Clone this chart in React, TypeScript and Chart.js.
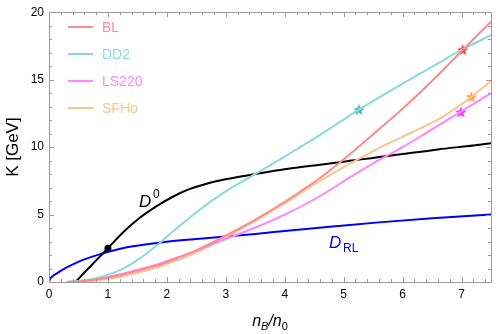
import React, { useEffect, useRef } from 'react';
import { Chart, registerables } from 'chart.js';
Chart.register(...registerables);

const W = 498;
const H = 334;

// ---- data ----
const seriesNames = ['BL', 'DD2', 'LS220', 'SFHo'];

const blX = [0.3, 0.5, 0.75, 1.0, 1.25, 1.5, 1.82, 2.1, 2.38, 2.8, 3.45, 4.0, 4.58, 5.14, 5.5, 6.0, 6.5, 7.02, 7.5];
const blY = [0, 0.04, 0.15, 0.31, 0.55, 0.83, 1.2, 1.65, 2.12, 3.0, 4.5, 5.95, 7.65, 9.6, 10.95, 12.85, 14.9, 17.2, 19.3];

const dd2X = [0.3, 0.6, 0.9, 1.25, 1.53, 1.82, 2.1, 2.38, 2.66, 2.94, 3.23, 3.54, 4.0, 4.6, 5.26, 6.0, 6.5, 7.0, 7.5];
const dd2Y = [0, 0.12, 0.4, 0.98, 1.71, 2.68, 3.75, 4.75, 5.7, 6.55, 7.32, 8.1, 9.3, 10.9, 12.78, 14.7, 15.95, 17.2, 18.3];

const ls220X = [0.3, 0.5, 0.75, 1.0, 1.25, 1.5, 1.82, 2.1, 2.38, 2.8, 3.45, 4.0, 4.58, 5.14, 5.5, 6.0, 6.4, 6.99, 7.5];
const ls220Y = [0, 0.06, 0.2, 0.38, 0.62, 0.9, 1.28, 1.7, 2.12, 2.85, 3.95, 5.0, 6.32, 7.85, 8.8, 10.0, 11.05, 12.63, 14.0];

const sfhoX = [0.3, 0.5, 0.75, 1.0, 1.25, 1.5, 1.82, 2.1, 2.38, 2.8, 3.45, 4.0, 4.58, 5.26, 5.7, 6.16, 6.7, 7.17, 7.5];
const sfhoY = [0, 0.02, 0.1, 0.22, 0.42, 0.68, 1.05, 1.5, 1.95, 2.85, 4.4, 5.85, 7.45, 9.15, 10.15, 11.1, 12.3, 13.73, 14.9];

const d0X = [0.45, 0.6, 0.8, 1.0, 1.25, 1.53, 1.82, 2.1, 2.38, 2.66, 2.94, 3.23, 3.5, 4.0, 4.6, 5.1, 5.5, 6.0, 6.6, 7.2, 7.5];
const d0Y = [0, 0.7, 1.6, 2.5, 3.65, 4.72, 5.6, 6.32, 6.88, 7.27, 7.56, 7.8, 8.0, 8.35, 8.7, 8.98, 9.2, 9.48, 9.83, 10.12, 10.29];

const drlX = [0, 0.02, 0.06, 0.125, 0.2, 0.3, 0.45, 0.6, 0.86, 1.3, 1.9, 2.45, 2.9, 3.5, 4.0, 4.9, 5.6, 6.5, 7.5];
const drlY = [0, 0.25, 0.42, 0.62, 0.82, 1.08, 1.4, 1.68, 2.05, 2.55, 2.93, 3.17, 3.33, 3.56, 3.78, 4.15, 4.42, 4.72, 5.0];

// star markers: BL, DD2, LS220, SFHo
const starX = [7.02, 5.26, 6.99, 7.17];
const starY = [17.22, 12.78, 12.6, 13.73];

// reference dot on D0
const dotX = [1.0];
const dotY = [2.5];

const xTickValues = [0, 1, 2, 3, 4, 5, 6, 7];
const xTickLabels = ['0', '1', '2', '3', '4', '5', '6', '7'];
const yTickValues = [0, 5, 10, 15, 20];
const yTickLabels = ['0', '5', '10', '15', '20'];

// ---- styles ----
const lineColors = ['rgb(255,138,138)', 'rgb(138,218,218)', 'rgb(255,132,255)', 'rgb(255,196,142)'];
const starColors = ['rgb(232,64,64)', 'rgb(64,192,192)', 'rgb(255,60,255)', 'rgb(255,160,64)'];
const FRAME = '#9c9c9c';
const FONT = '"Liberation Sans", Arial, sans-serif';

const pts = (xs: number[], ys: number[]) => xs.map((x, i) => ({ x, y: ys[i] }));

function makeStar(color: string, size: number): HTMLCanvasElement {
  const c = document.createElement('canvas');
  c.width = size;
  c.height = size;
  const ctx = c.getContext('2d')!;
  const cx = size / 2, cy = size / 2 + 0.5, R = size / 2, r = R * 0.45;
  ctx.beginPath();
  for (let i = 0; i < 10; i++) {
    const a = -Math.PI / 2 + (i * Math.PI) / 5;
    const rad = i % 2 === 0 ? R : r;
    ctx.lineTo(cx + rad * Math.cos(a), cy + rad * Math.sin(a));
  }
  ctx.closePath();
  ctx.fillStyle = color;
  ctx.fill();
  return c;
}

const framePlugin = {
  id: 'frameTicks',
  afterDraw(chart: any) {
    const { ctx, chartArea } = chart;
    const xs = chart.scales.x;
    const ys = chart.scales.y;
    const { left, right, top, bottom } = chartArea;
    ctx.save();
    ctx.strokeStyle = FRAME;
    ctx.lineWidth = 1;
    ctx.beginPath();
    ctx.rect(Math.round(left) + 0.5, Math.round(top) + 0.5, Math.round(right - left), Math.round(bottom - top));
    ctx.stroke();
    ctx.beginPath();
    for (let i = 0; i <= 37; i++) {
      const v = i * 0.2;
      if (v > 7.5) break;
      const p = Math.round(xs.getPixelForValue(v)) + 0.5;
      const major = Math.abs(v - Math.round(v)) < 1e-6;
      const len = major ? 5 : 3;
      ctx.moveTo(p, bottom);
      ctx.lineTo(p, bottom - len);
      ctx.moveTo(p, top);
      ctx.lineTo(p, top + len);
    }
    for (let v = 0; v <= 20; v++) {
      const p = Math.round(ys.getPixelForValue(v)) + 0.5;
      const major = v % 5 === 0;
      const len = major ? 5 : 3;
      ctx.moveTo(left, p);
      ctx.lineTo(left + len, p);
      ctx.moveTo(right, p);
      ctx.lineTo(right - len, p);
    }
    ctx.stroke();
    ctx.restore();
  },
};

const textPlugin = {
  id: 'texts',
  afterDraw(chart: any) {
    const { ctx, chartArea } = chart;
    ctx.save();
    // legend
    seriesNames.forEach((name, i) => {
      const y = 27 + i * 27;
      ctx.strokeStyle = lineColors[i];
      ctx.lineWidth = 2;
      ctx.beginPath();
      ctx.moveTo(68, y);
      ctx.lineTo(93, y);
      ctx.stroke();
      ctx.fillStyle = lineColors[i];
      ctx.font = `14px ${FONT}`;
      ctx.textBaseline = 'middle';
      ctx.textAlign = 'left';
      ctx.fillText(name, 102, y + 1);
    });
    ctx.textBaseline = 'alphabetic';
    // D^0 label
    ctx.fillStyle = '#000';
    ctx.font = `italic 17px ${FONT}`;
    ctx.fillText('D', 139, 207);
    ctx.font = `12px ${FONT}`;
    ctx.fillText('0', 153, 198);
    // D_RL label
    ctx.fillStyle = 'rgb(0,0,240)';
    ctx.font = `italic 17px ${FONT}`;
    ctx.fillText('D', 329, 248);
    ctx.font = `12px ${FONT}`;
    ctx.fillText('RL', 343, 252);
    // x title n_B/n_0
    ctx.fillStyle = '#000';
    const cx = (chartArea.left + chartArea.right) / 2;
    const parts: [string, string, number][] = [
      ['n', `italic 16px ${FONT}`, 0],
      ['B', `italic 11px ${FONT}`, 4],
      ['/', `italic 16px ${FONT}`, 0],
      ['n', `italic 16px ${FONT}`, 0],
      ['0', `11px ${FONT}`, 4],
    ];
    let total = 0;
    parts.forEach(([t, f]) => { ctx.font = f; total += ctx.measureText(t).width; });
    let x = cx - total / 2;
    parts.forEach(([t, f, dy]) => {
      ctx.font = f;
      ctx.fillText(t, x, 326 + dy);
      x += ctx.measureText(t).width;
    });
    // y title
    ctx.translate(18, (chartArea.top + chartArea.bottom) / 2);
    ctx.rotate(-Math.PI / 2);
    ctx.textAlign = 'center';
    ctx.font = `17px ${FONT}`;
    ctx.fillText('K [GeV]', 0, 0);
    ctx.restore();
  },
};

export default function App() {
  const ref = useRef<HTMLCanvasElement>(null);
  useEffect(() => {
    if (!ref.current) return;
    const lineDs = (label: string, xs: number[], ys: number[], color: string, width = 2) => ({
      label,
      data: pts(xs, ys),
      borderColor: color,
      backgroundColor: color,
      borderWidth: width,
      pointRadius: 0,
      showLine: true,
      fill: false,
      cubicInterpolationMode: 'monotone' as const,
    });
    const datasets: any[] = [
      lineDs('BL', blX, blY, lineColors[0]),
      lineDs('DD2', dd2X, dd2Y, lineColors[1]),
      lineDs('LS220', ls220X, ls220Y, lineColors[2]),
      lineDs('SFHo', sfhoX, sfhoY, lineColors[3]),
      lineDs('D0', d0X, d0Y, '#000'),
      lineDs('DRL', drlX, drlY, 'rgb(0,0,245)'),
    ];
    starX.forEach((sx, i) => {
      datasets.push({
        label: seriesNames[i] + ' star',
        data: [{ x: sx, y: starY[i] }],
        showLine: false,
        pointStyle: makeStar(starColors[i], 12),
        pointRadius: 6,
      });
    });
    datasets.push({
      label: 'dot',
      data: pts(dotX, dotY),
      showLine: false,
      pointStyle: 'circle',
      pointRadius: 3.5,
      backgroundColor: '#000',
      borderColor: '#000',
      borderWidth: 0,
    });
    const chart = new Chart(ref.current, {
      type: 'scatter',
      data: { datasets },
      options: {
        responsive: false,
        animation: false,
        events: [],
        layout: { padding: { left: 0, right: 5, top: 8, bottom: 0 } },
        plugins: { legend: { display: false }, tooltip: { enabled: false } },
        scales: {
          x: {
            type: 'linear',
            min: 0,
            max: 7.5,
            grid: { display: false, drawTicks: false },
            border: { display: false },
            ticks: {
              stepSize: 1,
              includeBounds: false,
              autoSkip: false,
              maxRotation: 0,
              padding: 5,
              color: '#000',
              font: { family: FONT, size: 12 },
              callback: (v: any) => {
                const k = xTickValues.indexOf(Number(v));
                return k >= 0 ? xTickLabels[k] : '';
              },
            },
            afterFit: (s: any) => { s.height = 52; },
          },
          y: {
            type: 'linear',
            min: 0,
            max: 20,
            grid: { display: false, drawTicks: false },
            border: { display: false },
            ticks: {
              stepSize: 5,
              includeBounds: false,
              autoSkip: false,
              padding: 5,
              color: '#000',
              font: { family: FONT, size: 12 },
              callback: (v: any) => {
                const k = yTickValues.indexOf(Number(v));
                return k >= 0 ? yTickLabels[k] : '';
              },
            },
            afterFit: (s: any) => { s.width = 49; },
          },
        },
      } as any,
      plugins: [framePlugin, textPlugin],
    });
    return () => chart.destroy();
  }, []);
  return (
    <div style={{ position: 'fixed', left: 0, top: 0, width: W, height: H, background: '#fff' }}>
      <canvas ref={ref} width={W} height={H} style={{ display: 'block', width: W, height: H }} />
    </div>
  );
}
